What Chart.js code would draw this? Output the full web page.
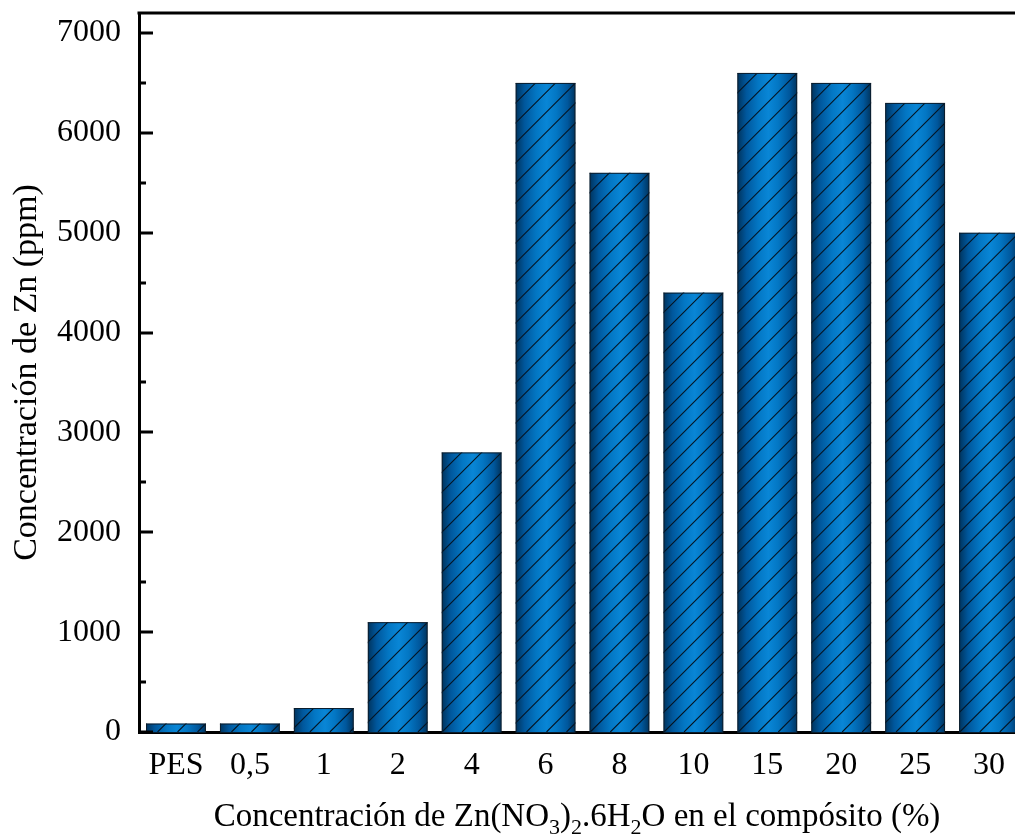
<!DOCTYPE html>
<html>
<head>
<meta charset="utf-8">
<script src="https://cdn.jsdelivr.net/npm/chart.js@4/dist/chart.umd.min.js"></script>
<style>
html,body{margin:0;padding:0;background:#fff;overflow:hidden;}
#wrap{width:1026px;height:837px;}
</style>
</head>
<body>
<div id="wrap"><canvas id="c" width="1026" height="837"></canvas></div>
<script>
const categories = ['PES','0,5','1','2','4','6','8','10','15','20','25','30'];
const zincPpm = [85, 85, 240, 1100, 2800, 6500, 5600, 4400, 6600, 6500, 6300, 5000];
const yTickValues = [0,1000,2000,3000,4000,5000,6000,7000];
const yMinorValues = [500,1500,2500,3500,4500,5500,6500];
const yTitle = 'Concentración de Zn (ppm)';
const xTitleParts = [['Concentración de Zn(NO',0],['3',1],[')',0],['2',1],['.6H',0],['2',1],['O en el compósito (%)',0]];

const FONT = '"Liberation Serif", "Times New Roman", serif';

const barPainter = {
  id:'barPainter',
  afterDatasetsDraw(chart){
    const ctx = chart.ctx;
    const meta = chart.getDatasetMeta(0);
    meta.data.forEach(bar=>{
      const w = bar.width, x0 = bar.x - w/2, top = bar.y, bottom = bar.base, h = bottom - top;
      const g = ctx.createLinearGradient(x0,0,x0+w,0);
      g.addColorStop(0,'#00335c');
      g.addColorStop(0.15,'#00579c');
      g.addColorStop(0.35,'#0377c4');
      g.addColorStop(0.52,'#0986d6');
      g.addColorStop(0.68,'#0377c4');
      g.addColorStop(0.87,'#00579c');
      g.addColorStop(1,'#00335c');
      ctx.save();
      ctx.beginPath(); ctx.rect(x0,top,w,h); ctx.clip();
      ctx.fillStyle = g; ctx.fillRect(x0,top,w,h);
      ctx.strokeStyle = '#051422'; ctx.lineWidth = 1.1;
      ctx.beginPath();
      for(let k=-h-40;k<w+40;k+=20){
        ctx.moveTo(x0+k, bottom);
        ctx.lineTo(x0+k+h+40, bottom-h-40);
      }
      ctx.stroke();
      ctx.restore();
      ctx.save();
      ctx.strokeStyle='#0b1c2b'; ctx.lineWidth=1;
      ctx.strokeRect(x0+0.5,top+0.5,w-1,h);
      ctx.restore();
    });
  }
};

const framePainter = {
  id:'framePainter',
  afterDraw(chart){
    const ctx = chart.ctx, a = chart.chartArea, ys = chart.scales.y;
    ctx.save();
    ctx.strokeStyle='#000'; ctx.lineWidth=3;
    ctx.beginPath(); ctx.moveTo(a.left-1.5,a.top); ctx.lineTo(a.right+10,a.top); ctx.stroke();
    ctx.lineWidth=3;
    ctx.beginPath();
    yTickValues.forEach(v=>{const y=Math.round(ys.getPixelForValue(v)); ctx.moveTo(a.left,y); ctx.lineTo(a.left+14,y);});
    yMinorValues.forEach(v=>{const y=Math.round(ys.getPixelForValue(v)); ctx.moveTo(a.left,y); ctx.lineTo(a.left+7,y);});
    ctx.stroke();
    // x title with subscripts
    const size = 33, sub = 22;
    let total = 0;
    xTitleParts.forEach(([t,s])=>{ctx.font=(s?sub:size)+'px '+FONT; total+=ctx.measureText(t).width;});
    let x = 577 - total/2; const base = 826;
    ctx.fillStyle='#000'; ctx.textBaseline='alphabetic'; ctx.textAlign='left';
    xTitleParts.forEach(([t,s])=>{ctx.font=(s?sub:size)+'px '+FONT; ctx.fillText(t,x,s?base+8:base); x+=ctx.measureText(t).width;});
    ctx.restore();
  }
};

new Chart(document.getElementById('c'),{
  type:'bar',
  data:{labels:categories,datasets:[{data:zincPpm,backgroundColor:'rgba(0,0,0,0)',borderWidth:0,barPercentage:0.81,categoryPercentage:1}]},
  options:{
    responsive:false,animation:false,devicePixelRatio:1,
    layout:{padding:{top:13,left:0,right:0,bottom:0}},
    plugins:{legend:{display:false},tooltip:{enabled:false}},
    scales:{
      x:{
        grid:{display:false,drawTicks:false},
        border:{display:true,color:'#000',width:3},
        ticks:{color:'#000',font:{family:FONT,size:32},padding:14,maxRotation:0,autoSkip:false},
        afterFit(s){s.height=105;s.paddingLeft=0;s.paddingRight=0;}
      },
      y:{
        min:0,max:7200,
        grid:{display:false,drawTicks:false},
        border:{display:true,color:'#000',width:3},
        ticks:{color:'#000',font:{family:FONT,size:32},padding:18,stepSize:1000,callback:v=>String(v)},
        afterBuildTicks(s){s.ticks=yTickValues.map(v=>({value:v}));},
        title:{display:true,text:yTitle,color:'#000',font:{family:FONT,size:34},padding:{top:7,bottom:0}},
        afterFit(s){s.width=139;s.paddingTop=0;s.paddingBottom=0;}
      }
    }
  },
  plugins:[barPainter,framePainter]
});
</script>
</body>
</html>
